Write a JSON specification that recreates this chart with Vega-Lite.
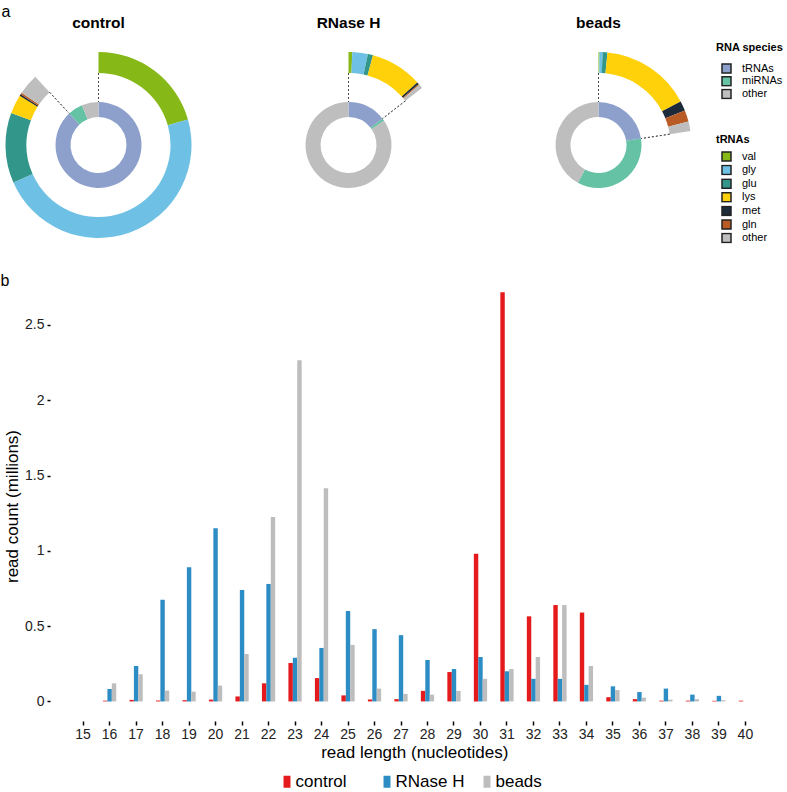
{
  "$schema": "https://vega.github.io/schema/vega-lite/v6.json",
  "padding": {"left": 0, "top": 3, "right": 0, "bottom": 0},
  "config": {"font": "Liberation Sans", "view": {"stroke": null}},
  "datasets": {
    "donut": [
      {"sample": "control", "ring": "inner", "species": "tRNAs", "k": 1, "pct": 88.1},
      {"sample": "control", "ring": "inner", "species": "miRNAs", "k": 2, "pct": 5.6},
      {"sample": "control", "ring": "inner", "species": "other", "k": 3, "pct": 6.3},
      {"sample": "control", "ring": "outer", "trna": "val", "k": 1, "pct": 20.6},
      {"sample": "control", "ring": "outer", "trna": "gly", "k": 2, "pct": 47.8},
      {"sample": "control", "ring": "outer", "trna": "glu", "k": 3, "pct": 12.2},
      {"sample": "control", "ring": "outer", "trna": "lys", "k": 4, "pct": 3.3},
      {"sample": "control", "ring": "outer", "trna": "met", "k": 5, "pct": 0.3},
      {"sample": "control", "ring": "outer", "trna": "gln", "k": 6, "pct": 0.3},
      {"sample": "control", "ring": "outer", "trna": "other", "k": 7, "pct": 3.6},
      {"sample": "RNase H", "ring": "inner", "species": "tRNAs", "k": 1, "pct": 14.5},
      {"sample": "RNase H", "ring": "inner", "species": "miRNAs", "k": 2, "pct": 1.0},
      {"sample": "RNase H", "ring": "inner", "species": "other", "k": 3, "pct": 84.5},
      {"sample": "RNase H", "ring": "outer", "trna": "val", "k": 1, "pct": 0.65},
      {"sample": "RNase H", "ring": "outer", "trna": "gly", "k": 2, "pct": 2.7},
      {"sample": "RNase H", "ring": "outer", "trna": "glu", "k": 3, "pct": 0.9},
      {"sample": "RNase H", "ring": "outer", "trna": "lys", "k": 4, "pct": 9.0},
      {"sample": "RNase H", "ring": "outer", "trna": "met", "k": 5, "pct": 0.35},
      {"sample": "RNase H", "ring": "outer", "trna": "gln", "k": 6, "pct": 0.2},
      {"sample": "RNase H", "ring": "outer", "trna": "other", "k": 7, "pct": 0.7},
      {"sample": "beads", "ring": "inner", "species": "tRNAs", "k": 1, "pct": 22.6},
      {"sample": "beads", "ring": "inner", "species": "miRNAs", "k": 2, "pct": 35.4},
      {"sample": "beads", "ring": "inner", "species": "other", "k": 3, "pct": 42.0},
      {"sample": "beads", "ring": "outer", "trna": "val", "k": 1, "pct": 0.17},
      {"sample": "beads", "ring": "outer", "trna": "gly", "k": 2, "pct": 0.55},
      {"sample": "beads", "ring": "outer", "trna": "glu", "k": 3, "pct": 0.82},
      {"sample": "beads", "ring": "outer", "trna": "lys", "k": 4, "pct": 15.7},
      {"sample": "beads", "ring": "outer", "trna": "met", "k": 5, "pct": 1.7},
      {"sample": "beads", "ring": "outer", "trna": "gln", "k": 6, "pct": 2.0},
      {"sample": "beads", "ring": "outer", "trna": "other", "k": 7, "pct": 1.66}
    ],
    "reads": [
      {"len": 15, "sample": "control", "count": 0}, {"len": 15, "sample": "RNase H", "count": 0}, {"len": 15, "sample": "beads", "count": 0},
      {"len": 16, "sample": "control", "count": 0.005}, {"len": 16, "sample": "RNase H", "count": 0.082}, {"len": 16, "sample": "beads", "count": 0.12},
      {"len": 17, "sample": "control", "count": 0.01}, {"len": 17, "sample": "RNase H", "count": 0.235}, {"len": 17, "sample": "beads", "count": 0.18},
      {"len": 18, "sample": "control", "count": 0.006}, {"len": 18, "sample": "RNase H", "count": 0.675}, {"len": 18, "sample": "beads", "count": 0.072},
      {"len": 19, "sample": "control", "count": 0.008}, {"len": 19, "sample": "RNase H", "count": 0.89}, {"len": 19, "sample": "beads", "count": 0.065},
      {"len": 20, "sample": "control", "count": 0.012}, {"len": 20, "sample": "RNase H", "count": 1.15}, {"len": 20, "sample": "beads", "count": 0.105},
      {"len": 21, "sample": "control", "count": 0.033}, {"len": 21, "sample": "RNase H", "count": 0.74}, {"len": 21, "sample": "beads", "count": 0.315},
      {"len": 22, "sample": "control", "count": 0.12}, {"len": 22, "sample": "RNase H", "count": 0.78}, {"len": 22, "sample": "beads", "count": 1.225},
      {"len": 23, "sample": "control", "count": 0.255}, {"len": 23, "sample": "RNase H", "count": 0.29}, {"len": 23, "sample": "beads", "count": 2.265},
      {"len": 24, "sample": "control", "count": 0.155}, {"len": 24, "sample": "RNase H", "count": 0.355}, {"len": 24, "sample": "beads", "count": 1.415},
      {"len": 25, "sample": "control", "count": 0.04}, {"len": 25, "sample": "RNase H", "count": 0.6}, {"len": 25, "sample": "beads", "count": 0.375},
      {"len": 26, "sample": "control", "count": 0.013}, {"len": 26, "sample": "RNase H", "count": 0.48}, {"len": 26, "sample": "beads", "count": 0.085},
      {"len": 27, "sample": "control", "count": 0.015}, {"len": 27, "sample": "RNase H", "count": 0.44}, {"len": 27, "sample": "beads", "count": 0.05},
      {"len": 28, "sample": "control", "count": 0.07}, {"len": 28, "sample": "RNase H", "count": 0.275}, {"len": 28, "sample": "beads", "count": 0.045},
      {"len": 29, "sample": "control", "count": 0.195}, {"len": 29, "sample": "RNase H", "count": 0.215}, {"len": 29, "sample": "beads", "count": 0.07},
      {"len": 30, "sample": "control", "count": 0.98}, {"len": 30, "sample": "RNase H", "count": 0.295}, {"len": 30, "sample": "beads", "count": 0.15},
      {"len": 31, "sample": "control", "count": 2.716}, {"len": 31, "sample": "RNase H", "count": 0.2}, {"len": 31, "sample": "beads", "count": 0.215},
      {"len": 32, "sample": "control", "count": 0.565}, {"len": 32, "sample": "RNase H", "count": 0.15}, {"len": 32, "sample": "beads", "count": 0.295},
      {"len": 33, "sample": "control", "count": 0.64}, {"len": 33, "sample": "RNase H", "count": 0.15}, {"len": 33, "sample": "beads", "count": 0.64},
      {"len": 34, "sample": "control", "count": 0.59}, {"len": 34, "sample": "RNase H", "count": 0.11}, {"len": 34, "sample": "beads", "count": 0.235},
      {"len": 35, "sample": "control", "count": 0.028}, {"len": 35, "sample": "RNase H", "count": 0.1}, {"len": 35, "sample": "beads", "count": 0.075},
      {"len": 36, "sample": "control", "count": 0.015}, {"len": 36, "sample": "RNase H", "count": 0.062}, {"len": 36, "sample": "beads", "count": 0.025},
      {"len": 37, "sample": "control", "count": 0.005}, {"len": 37, "sample": "RNase H", "count": 0.085}, {"len": 37, "sample": "beads", "count": 0.012},
      {"len": 38, "sample": "control", "count": 0.005}, {"len": 38, "sample": "RNase H", "count": 0.045}, {"len": 38, "sample": "beads", "count": 0.015},
      {"len": 39, "sample": "control", "count": 0.004}, {"len": 39, "sample": "RNase H", "count": 0.037}, {"len": 39, "sample": "beads", "count": 0.008},
      {"len": 40, "sample": "control", "count": 0.005}, {"len": 40, "sample": "RNase H", "count": 0}, {"len": 40, "sample": "beads", "count": 0}
    ]
  },
  "vconcat": [
    {
      "title": {"text": "a", "anchor": "start", "fontSize": 16, "fontWeight": "normal", "offset": -4, "dx": -4},
      "data": {"name": "donut"},
      "facet": {
        "column": {
          "field": "sample", "type": "nominal", "sort": ["control", "RNase H", "beads"],
          "header": {"title": null, "labelFontSize": 15.5, "labelFontWeight": "bold", "labelColor": "black", "labelPadding": 15}
        }
      },
      "spacing": 153,
      "bounds": "flush",
      "spec": {
        "width": 97,
        "height": 198,
        "layer": [
          {
            "transform": [{"filter": "datum.ring === 'inner'"}],
            "mark": {"type": "arc", "innerRadius": 28, "outerRadius": 43},
            "encoding": {
              "theta": {"field": "pct", "type": "quantitative", "scale": {"domain": [0, 100]}},
              "order": {"field": "k", "type": "quantitative"},
              "fill": {
                "field": "species", "type": "nominal",
                "scale": {"domain": ["tRNAs", "miRNAs", "other"], "range": ["#8DA0CB", "#66C2A5", "#BEBEBE"]},
                "legend": {"title": "RNA species", "orient": "none", "legendX": 666, "legendY": -4,
                  "titleFontSize": 11, "titleFontWeight": "bold", "titleColor": "black", "titlePadding": 10,
                  "labelFontSize": 11, "labelColor": "black", "symbolType": "square", "symbolSize": 81,
                  "symbolStrokeColor": "#222", "symbolStrokeWidth": 1.5, "clipHeight": 11, "rowPadding": 0.8, "labelOffset": 10, "symbolOffset": 5}
              }
            }
          },
          {
            "transform": [{"filter": "datum.ring === 'outer'"}],
            "mark": {"type": "arc", "innerRadius": 72, "outerRadius": 93},
            "encoding": {
              "theta": {"field": "pct", "type": "quantitative", "scale": {"domain": [0, 100]}},
              "order": {"field": "k", "type": "quantitative"},
              "color": {
                "field": "trna", "type": "nominal",
                "scale": {"domain": ["val", "gly", "glu", "lys", "met", "gln", "other"], "range": ["#86B817", "#6EC1E4", "#33968A", "#FFD10A", "#1C2A3A", "#B85B25", "#BEBEBE"]},
                "legend": {"title": "tRNAs", "orient": "none", "legendX": 666, "legendY": 88,
                  "titleFontSize": 11, "titleFontWeight": "bold", "titleColor": "black", "titlePadding": 6,
                  "labelFontSize": 11, "labelColor": "black", "symbolType": "square", "symbolSize": 81,
                  "symbolStrokeColor": "#222", "symbolStrokeWidth": 1.5, "clipHeight": 11, "rowPadding": 1.6, "labelOffset": 10, "symbolOffset": 5}
              }
            }
          },
          {
            "transform": [{"filter": "datum.ring === 'inner' && datum.species === 'tRNAs'"}],
            "mark": {"type": "arc", "innerRadius": 43, "outerRadius": 72, "filled": false, "stroke": "#444", "strokeWidth": 0.8, "strokeDash": [2, 2]},
            "encoding": {
              "theta": {"field": "pct", "type": "quantitative", "stack": null},
              "theta2": {"field": "pct"}
            }
          },
          {
            "transform": [{"filter": "datum.ring === 'inner' && datum.species === 'tRNAs'"}],
            "mark": {"type": "arc", "innerRadius": 43, "outerRadius": 72, "filled": false, "stroke": "#444", "strokeWidth": 0.8, "strokeDash": [2, 2]},
            "encoding": {
              "theta": {"datum": 0, "type": "quantitative"},
              "theta2": {"datum": 0}
            }
          }
        ]
      }
    },
    {
      "title": {"text": "b", "anchor": "start", "fontSize": 16, "fontWeight": "normal", "offset": 2, "dx": -3},
      "width": 728.5,
      "height": 430,
      "data": {"name": "reads"},
      "mark": {"type": "bar"},
      "encoding": {
        "x": {
          "field": "len", "type": "ordinal", "title": "read length (nucleotides)",
          "scale": {"domain": [15,16,17,18,19,20,21,22,23,24,25,26,27,28,29,30,31,32,33,34,35,36,37,38,39,40], "paddingInner": 0.5, "paddingOuter": 1},
          "axis": {"labelAngle": 0, "domain": false, "grid": false, "tickSize": 4, "tickWidth": 1.5, "tickColor": "black",
            "labelFontSize": 14, "labelColor": "#222", "labelPadding": 2, "titleFontSize": 17, "titleFontWeight": "normal", "titleColor": "black", "titlePadding": 3}
        },
        "xOffset": {"field": "sample", "type": "nominal", "scale": {"domain": ["control", "RNase H", "beads"], "paddingInner": 0, "paddingOuter": 0}},
        "y": {
          "field": "count", "type": "quantitative", "title": "read count (millions)",
          "scale": {"domain": [-0.13, 2.725], "nice": false, "zero": false},
          "axis": {"values": [0, 0.5, 1, 1.5, 2, 2.5], "format": "~g", "domain": false, "grid": false, "tickSize": 3, "tickWidth": 1.5, "tickColor": "black",
            "labelFontSize": 14, "labelColor": "#222", "labelPadding": 3, "titleFontSize": 17, "titleFontWeight": "normal", "titleColor": "black", "titlePadding": 3}
        },
        "color": {
          "field": "sample", "type": "nominal",
          "scale": {"domain": ["control", "RNase H", "beads"], "range": ["#E41A1C", "#2C8CC4", "#BDBDBD"]},
          "legend": {"title": null, "orient": "none", "direction": "horizontal", "legendX": 228.5, "legendY": 482,
            "labelFontSize": 17, "labelColor": "black", "symbolType": "M-0.58,-1L0.58,-1L0.58,1L-0.58,1Z", "symbolSize": 144,
            "symbolStrokeWidth": 0, "gridAlign": "all", "columnPadding": 14, "labelOffset": 0}
        }
      }
    }
  ],
  "spacing": 29,
  "resolve": {"scale": {"color": "independent", "fill": "independent"}, "legend": {"color": "independent", "fill": "independent"}}
}
